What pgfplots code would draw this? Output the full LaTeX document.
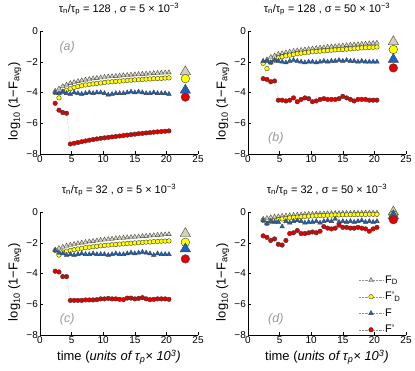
\documentclass[border=0pt]{standalone}
\usepackage{fontspec}
\setmainfont{Liberation Sans}
\usepackage{pgfplots}
\pgfplotsset{compat=1.18}
\usepackage{pgfplotstable}

\definecolor{cFD}{RGB}{212,208,188}
\definecolor{cFDp}{RGB}{255,255,0}
\definecolor{cF}{RGB}{20,100,200}
\definecolor{cFp}{RGB}{228,0,0}
\definecolor{dotc}{RGB}{150,150,150}

% columns: time, F_D, F'_D, F, F'
\pgfplotstableread{
x    FD     FDp    F      Fp
2.4  -3.90  -4.00  -4.00  -4.70
3.0  -3.75  -4.35  -4.05  -5.15
3.6  -3.60  -3.95  -3.95  -5.30
4.2  -3.50  -3.85  -4.05  -5.35
4.8  -3.40  -3.75  -4.10  -7.35
5.4  -3.33  -3.67  -4.00  -7.30
6.0  -3.27  -3.61  -4.05  -7.25
6.6  -3.22  -3.56  -4.10  -7.20
7.2  -3.17  -3.51  -4.05  -7.15
7.8  -3.13  -3.47  -4.00  -7.10
8.4  -3.09  -3.44  -4.05  -7.06
9.0  -3.06  -3.41  -4.00  -7.02
9.6  -3.03  -3.38  -4.00  -6.98
10.2 -3.00  -3.35  -4.05  -6.95
10.8 -2.97  -3.32  -4.15  -6.92
11.4 -2.95  -3.30  -4.10  -6.89
12.0 -2.93  -3.28  -4.05  -6.86
12.6 -2.91  -3.26  -4.05  -6.83
13.2 -2.89  -3.24  -4.05  -6.80
13.8 -2.87  -3.22  -4.00  -6.77
14.4 -2.85  -3.20  -3.95  -6.74
15.0 -2.83  -3.18  -4.00  -6.71
15.6 -2.81  -3.17  -3.95  -6.68
16.2 -2.80  -3.15  -4.00  -6.66
16.8 -2.78  -3.13  -4.05  -6.63
17.4 -2.77  -3.12  -4.05  -6.61
18.0 -2.75  -3.10  -4.00  -6.58
18.6 -2.74  -3.09  -4.05  -6.56
19.2 -2.72  -3.08  -4.05  -6.54
19.8 -2.71  -3.06  -4.05  -6.52
20.4 -2.70  -3.05  -4.10  -6.50
}\dataA

\pgfplotstableread{
x    FD     FDp    F      Fp
2.4  -2.00  -2.10  -1.95  -3.10
3.0  -1.85  -2.45  -1.95  -3.15
3.6  -1.70  -2.05  -2.05  -3.30
4.2  -1.60  -1.90  -1.90  -3.25
4.8  -1.50  -1.75  -1.95  -4.50
5.4  -1.45  -1.68  -2.00  -4.50
6.0  -1.40  -1.62  -2.05  -4.55
6.6  -1.35  -1.57  -1.95  -4.50
7.2  -1.31  -1.52  -1.90  -4.35
7.8  -1.27  -1.48  -1.95  -4.60
8.4  -1.24  -1.44  -2.00  -4.45
9.0  -1.21  -1.41  -2.05  -4.35
9.6  -1.18  -1.38  -2.00  -4.40
10.2 -1.15  -1.35  -2.00  -4.60
10.8 -1.12  -1.33  -2.05  -4.55
11.4 -1.09  -1.31  -2.00  -4.45
12.0 -1.07  -1.29  -1.95  -4.40
12.6 -1.04  -1.27  -2.00  -4.45
13.2 -1.02  -1.25  -1.95  -4.45
13.8 -1.00  -1.23  -1.95  -4.45
14.4 -0.97  -1.21  -1.90  -4.40
15.0 -0.95  -1.20  -1.95  -4.25
15.6 -0.93  -1.18  -1.90  -4.35
16.2 -0.91  -1.16  -1.95  -4.45
16.8 -0.89  -1.14  -1.95  -4.55
17.4 -0.87  -1.12  -2.00  -4.45
18.0 -0.85  -1.10  -1.95  -4.45
18.6 -0.83  -1.09  -2.00  -4.45
19.2 -0.81  -1.07  -2.00  -4.50
19.8 -0.79  -1.06  -2.00  -4.50
20.4 -0.77  -1.04  -2.00  -4.50
}\dataB

\pgfplotstableread{
x    FD     FDp    F      Fp
2.4  -2.45  -2.50  -2.50  -3.85
3.0  -2.35  -2.80  -2.65  -3.90
3.6  -2.27  -2.60  -2.70  -4.20
4.2  -2.20  -2.55  -2.80  -4.20
4.8  -2.14  -2.50  -2.75  -5.75
5.4  -2.09  -2.45  -2.80  -5.75
6.0  -2.04  -2.40  -2.75  -5.75
6.6  -2.00  -2.36  -2.70  -5.75
7.2  -1.96  -2.32  -2.75  -5.72
7.8  -1.92  -2.29  -2.75  -5.72
8.4  -1.89  -2.26  -2.70  -5.72
9.0  -1.86  -2.23  -2.75  -5.70
9.6  -1.83  -2.20  -2.75  -5.65
10.2 -1.80  -2.18  -2.75  -5.65
10.8 -1.77  -2.15  -2.80  -5.62
11.4 -1.75  -2.13  -2.75  -5.65
12.0 -1.72  -2.11  -2.70  -5.65
12.6 -1.70  -2.09  -2.75  -5.68
13.2 -1.68  -2.07  -2.75  -5.70
13.8 -1.66  -2.05  -2.70  -5.60
14.4 -1.64  -2.03  -2.65  -5.60
15.0 -1.62  -2.01  -2.70  -5.65
15.6 -1.60  -2.00  -2.65  -5.62
16.2 -1.58  -1.98  -2.60  -5.57
16.8 -1.56  -1.96  -2.65  -5.65
17.4 -1.54  -1.95  -2.70  -5.70
18.0 -1.52  -1.93  -2.80  -5.68
18.6 -1.50  -1.92  -2.70  -5.65
19.2 -1.48  -1.90  -2.75  -5.65
19.8 -1.46  -1.89  -2.75  -5.65
20.4 -1.45  -1.88  -2.75  -5.68
}\dataC

\pgfplotstableread{
x    FD     FDp    F      Fp
2.4  -0.45  -0.55  -0.55  -1.55
3.0  -0.40  -0.75  -0.75  -1.65
3.6  -0.35  -0.60  -0.60  -1.85
4.2  -0.32  -0.55  -0.65  -1.75
4.8  -0.29  -0.50  -0.65  -2.10
5.4  -0.26  -0.45  -0.95  -2.15
6.0  -0.24  -0.42  -0.60  -1.85
6.6  -0.22  -0.38  -0.70  -1.40
7.2  -0.20  -0.35  -0.60  -1.35
7.8  -0.18  -0.33  -0.55  -1.20
8.4  -0.17  -0.31  -0.60  -1.40
9.0  -0.15  -0.29  -0.70  -1.40
9.6  -0.14  -0.27  -0.65  -1.35
10.2 -0.13  -0.26  -0.65  -1.30
10.8 -0.12  -0.24  -0.60  -1.35
11.4 -0.11  -0.23  -0.70  -1.25
12.0 -0.10  -0.22  -0.60  -0.95
12.6 -0.09  -0.21  -0.55  -1.05
13.2 -0.09  -0.20  -0.60  -1.10
13.8 -0.08  -0.19  -0.45  -1.05
14.4 -0.08  -0.19  -0.65  -0.85
15.0 -0.07  -0.18  -0.60  -1.00
15.6 -0.07  -0.18  -0.65  -1.00
16.2 -0.07  -0.17  -0.60  -1.05
16.8 -0.06  -0.17  -0.65  -1.05
17.4 -0.06  -0.16  -0.60  -1.00
18.0 -0.06  -0.16  -0.55  -1.05
18.6 -0.05  -0.16  -0.65  -1.10
19.2 -0.05  -0.15  -0.60  -1.25
19.8 -0.05  -0.15  -0.65  -1.10
20.4 -0.05  -0.15  -0.60  -1.00
}\dataD

\tikzset{plab/.style={font=\fontsize{12.5}{14}\selectfont\itshape, text=black!40}}

\pgfplotsset{
  panel/.style={
    scale only axis, width=158bp, height=123bp,
    xmin=0, xmax=25, ymin=-8, ymax=0, clip=false,
    axis x line*=bottom, axis y line*=left,
    axis line style={-, line width=0.5pt},
    tick align=inside, major tick length=2.5bp,
    tick style={black, line width=0.4pt},
    xtick={0,5,10,15,20,25}, xticklabels={0,5,10,15,20,25},
    ytick={-8,-6,-4,-2,0}, yticklabels={−8,−6,−4,−2,0},
    tick label style={font=\fontsize{10}{11}\selectfont},
    xticklabel style={inner sep=1.5bp},
    yticklabel style={inner sep=2bp},
    title style={font=\fontsize{11}{12}\selectfont, at={(axis description cs:0.5,1)}, anchor=base, yshift=13bp},
    ylabel={log\textsubscript{10} (1−F\textsubscript{avg})},
    ylabel style={font=\fontsize{13}{14}\selectfont, at={(axis description cs:-0.16,0.43)}, anchor=center},
    xlabel style={font=\fontsize{13}{14}\selectfont, at={(axis description cs:0.5,0)}, anchor=center, yshift=-22bp},
  },
  sFD/.style={densely dotted, color=dotc, line width=0.4pt, mark=triangle*, mark size=2.7bp,
    mark options={solid, draw=black!75, fill=cFD, line width=0.35pt}},
  sFDp/.style={densely dotted, color=dotc, line width=0.4pt, mark=*, mark size=2.3bp,
    mark options={solid, draw=black!80, fill=cFDp, line width=0.35pt}},
  sF/.style={densely dotted, color=dotc, line width=0.4pt, mark=triangle*, mark size=2.7bp,
    mark options={solid, draw=black!75, fill=cF, line width=0.35pt}},
  sFp/.style={densely dotted, color=dotc, line width=0.4pt, mark=*, mark size=2.3bp,
    mark options={solid, draw=black!80, fill=cFp, line width=0.35pt}},
  big/.style={only marks, forget plot, mark options={solid, draw=black!75, line width=0.4pt}},
}

\newcommand{\series}[1]{%
  \addplot[sFD]  table[x=x, y=FD]  {#1};
  \addplot[sFDp] table[x=x, y=FDp] {#1};
  \addplot[sF]   table[x=x, y=F]   {#1};
  \addplot[sFp]  table[x=x, y=Fp]  {#1};
}

\begin{document}
\begin{tikzpicture}
\useasboundingbox (0,0) rectangle (415bp,371bp);

% (a)
\begin{axis}[panel, at={(40bp,217bp)}, anchor=south west,
  title={τ\textsubscript{n}/τ\textsubscript{p} = 128 , σ = 5 × 10\textsuperscript{−3}}]
\series{\dataA}
\addplot[big, mark=triangle*, mark size=6bp, fill=cFD] coordinates {(23,-2.65)};
\addplot[big, mark=*, mark size=4.3bp, fill=cFDp] coordinates {(23,-3.1)};
\addplot[big, mark=triangle*, mark size=6bp, fill=cF] coordinates {(23,-3.85)};
\addplot[big, mark=*, mark size=4.3bp, fill=cFp] coordinates {(23,-4.3)};
\node[plab] at (axis cs:4.3,-1.07) {(a)};
\end{axis}

% (b)
\begin{axis}[panel, at={(248bp,217bp)}, anchor=south west,
  title={τ\textsubscript{n}/τ\textsubscript{p} = 128 , σ = 50 × 10\textsuperscript{−3}}]
\series{\dataB}
\addplot[big, mark=triangle*, mark size=6bp, fill=cFD] coordinates {(23,-0.7)};
\addplot[big, mark=*, mark size=4.3bp, fill=cFDp] coordinates {(23,-1.2)};
\addplot[big, mark=triangle*, mark size=6bp, fill=cF] coordinates {(23,-1.85)};
\addplot[big, mark=*, mark size=4.3bp, fill=cFp] coordinates {(23,-2.4)};
\node[plab] at (axis cs:4.4,-6.95) {(b)};
\end{axis}

% (c)
\begin{axis}[panel, at={(40bp,36bp)}, anchor=south west,
  title={τ\textsubscript{n}/τ\textsubscript{p} = 32 , σ = 5 × 10\textsuperscript{−3}},
  xlabel={time (\textit{units of τ\textsubscript{p}× 10\textsuperscript{3})}}]
\series{\dataC}
\addplot[big, mark=triangle*, mark size=6bp, fill=cFD] coordinates {(23,-1.4)};
\addplot[big, mark=*, mark size=4.3bp, fill=cFDp] coordinates {(23,-1.97)};
\addplot[big, mark=triangle*, mark size=6bp, fill=cF] coordinates {(23,-2.4)};
\addplot[big, mark=*, mark size=4.3bp, fill=cFp] coordinates {(23,-3.05)};
\node[plab] at (axis cs:4.3,-7.0) {(c)};
\end{axis}

% (d)
\begin{axis}[panel, at={(248bp,36bp)}, anchor=south west,
  title={τ\textsubscript{n}/τ\textsubscript{p} = 32 , σ = 50 × 10\textsuperscript{−3}},
  xlabel={time (\textit{units of τ\textsubscript{p}× 10\textsuperscript{3})}},
  legend style={draw=none, fill=none, at={(axis description cs:0.70,0.50)}, anchor=north west,
    inner sep=0pt, row sep=3.5bp, font=\fontsize{11}{12}\selectfont},
  legend cell align=left,
  legend image code/.code={\draw[mark repeat=2, mark phase=2] plot coordinates {(0bp,0bp) (12bp,0bp) (24bp,0bp)};}]
\series{\dataD}
\addlegendentry{F\textsubscript{D}}
\addlegendentry{F'\textsubscript{D}}
\addlegendentry{F}
\addlegendentry{F'}
\addplot[big, mark=triangle*, mark size=6bp, fill=cFD] coordinates {(23,0.0)};
\addplot[big, mark=*, mark size=4.3bp, fill=cFDp] coordinates {(23,-0.2)};
\addplot[big, mark=triangle*, mark size=6bp, fill=cF] coordinates {(23,-0.25)};
\addplot[big, mark=*, mark size=4.3bp, fill=cFp] coordinates {(23,-0.5)};
\node[plab] at (axis cs:4.4,-6.95) {(d)};
\end{axis}
\end{tikzpicture}
\end{document}
